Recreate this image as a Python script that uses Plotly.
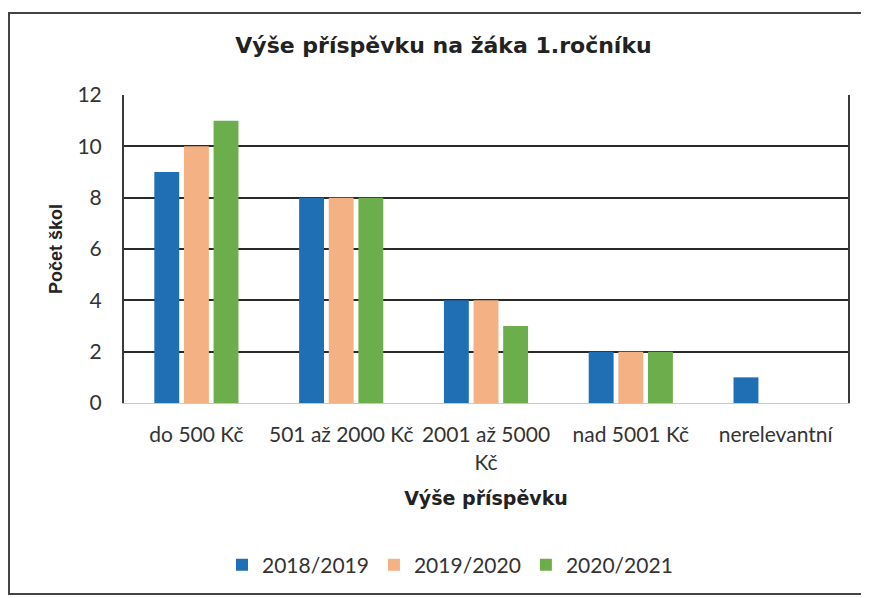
import plotly.graph_objects as go

categories = ["do 500 Kč", "501 až 2000 Kč", "2001 až 5000 Kč", "nad 5001 Kč", "nerelevantní"]
tick_labels = ["do 500 Kč", "501 až 2000 Kč", "2001 až 5000<br>Kč", "nad 5001 Kč", "nerelevantní"]
series_names = ["2018/2019", "2019/2020", "2020/2021"]
values_2018 = [9, 8, 4, 2, 1]
values_2019 = [10, 8, 4, 2, 0]
values_2020 = [11, 8, 3, 2, 0]
y_ticks = [0, 2, 4, 6, 8, 10, 12]

colors = ["#1F6FB5", "#F4B183", "#6CAD4C"]
label_font = "Lato, Carlito, Calibri, sans-serif"
wide_bold = "'DejaVu Sans', Verdana, sans-serif"
bold_font = "'Liberation Sans', Arial, sans-serif"

fig = go.Figure()
for name, vals, col in zip(series_names, [values_2018, values_2019, values_2020], colors):
    fig.add_trace(go.Bar(x=categories, y=vals, name=name, marker=dict(color=col, line=dict(width=0))))

# page has an 8px body margin; work in page coordinates and convert
OFF = 8
W, H = 869 - OFF, 598 - OFF
L, R, T, B = 124 - OFF, 848 - OFF, 95 - OFF, 403 - OFF
pw, ph = R - L, B - T

def px_x(x):
    return (x - OFF - L) / pw

def px_y(y):
    return (B - (y - OFF)) / ph

fig.update_layout(
    width=W, height=H,
    margin=dict(l=L, r=W - R, t=T, b=H - B),
    paper_bgcolor="white", plot_bgcolor="white",
    barmode="group", bargap=0.386, bargroupgap=0.16,
    title=dict(text="<b>Výše příspěvku na žáka 1.ročníku</b>", x=(443.5 - OFF) / W, xanchor="center",
               y=1 - (45 - OFF) / H, yanchor="middle", yref="container",
               font=dict(family=wide_bold, size=22, color="#222")),
    legend=dict(orientation="h", x=px_x(450), xanchor="center", y=px_y(565), yanchor="middle",
                font=dict(family=label_font, size=21, color="#333"),
                traceorder="normal"),
    font=dict(family=label_font, color="#333"),
    showlegend=True,
)

fig.update_xaxes(
    tickmode="array", tickvals=categories, ticktext=tick_labels,
    tickfont=dict(family=label_font, size=21, color="#333"),
    showline=True, linecolor="#c8c8c8", linewidth=1,
    showgrid=False, ticks="", ticklabelstandoff=13,
    title=dict(text="<b>Výše příspěvku</b>", font=dict(family=wide_bold, size=19, color="#222"), standoff=19),
)
fig.update_yaxes(
    range=[0, 12], tickmode="array", tickvals=y_ticks,
    tickfont=dict(family=label_font, size=21, color="#333"),
    showgrid=True, gridcolor="#2a2a2a", gridwidth=2,
    zeroline=False,
    showline=True, linecolor="#3a3a3a", linewidth=2, mirror=True,
    ticks="", ticklabelstandoff=16,
    title=dict(text="<b>Počet škol</b>", font=dict(family=bold_font, size=18, color="#222"), standoff=10),
)

# outer chart frame
fig.add_shape(type="rect", xref="paper", yref="paper",
              x0=px_x(9), x1=px_x(865), y0=px_y(594), y1=px_y(13),
              line=dict(color="#444", width=2), layer="below")

fig.write_html("out.html")
